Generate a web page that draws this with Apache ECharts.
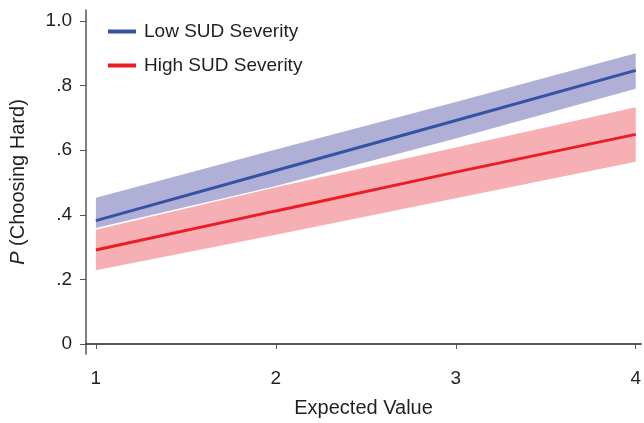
<!DOCTYPE html>
<html>
<head>
<meta charset="utf-8">
<script src="https://cdn.jsdelivr.net/npm/echarts@6/dist/echarts.min.js"></script>
<style>html,body{margin:0;padding:0;background:#fff}#c{width:644px;height:423px}</style>
</head>
<body>
<div id="c"></div>
<script>
var expectedValue = [1, 2, 3, 4];
var lowMean  = [0.382, 0.537, 0.692, 0.847];
var lowLower = [0.359, 0.489, 0.636, 0.790];
var lowUpper = [0.453, 0.602, 0.749, 0.900];
var highMean  = [0.291, 0.412, 0.532, 0.649];
var highLower = [0.228, 0.338, 0.451, 0.564];
var highUpper = [0.354, 0.485, 0.608, 0.733];
var yTicks = [0, 0.2, 0.4, 0.6, 0.8, 1.0];
var yTickLabels = ['0', '.2', '.4', '.6', '.8', '1.0'];
var xTicks = [1, 2, 3, 4];

var FONT = "'Liberation Sans', Arial, sans-serif";
function pts(ys) { return expectedValue.map(function (x, i) { return [x, ys[i]]; }); }
function bandData(lo, hi) { return expectedValue.map(function (x, i) { return [x, lo[i], hi[i]]; }); }

function bandSeries(lo, hi, color, z) {
  return {
    type: 'custom', silent: true, z: z,
    data: bandData(lo, hi),
    encode: { x: 0, y: [1, 2] },
    renderItem: function (params, api) {
      if (params.dataIndex !== 0) return null;
      var top = [], bot = [];
      for (var i = 0; i < expectedValue.length; i++) {
        top.push(api.coord([expectedValue[i], hi[i]]));
        bot.push(api.coord([expectedValue[i], lo[i]]));
      }
      return {
        type: 'polygon',
        shape: { points: top.concat(bot.reverse()) },
        style: { fill: color, stroke: null }
      };
    }
  };
}

var chart = echarts.init(document.getElementById('c'));
chart.setOption({
  animation: false,
  grid: { left: 86, right: 0, top: 10, bottom: 67, containLabel: false },
  legend: {
    orient: 'vertical', left: 103, top: 17, itemGap: 15,
    itemWidth: 28, itemHeight: 4, icon: 'rect',
    textStyle: { fontFamily: FONT, fontSize: 19, color: '#231f20', padding: [0, 0, 0, 3] },
    data: ['Low SUD Severity', 'High SUD Severity']
  },
  xAxis: {
    type: 'value', min: 0.945, max: 4.03,
    name: 'Expected Value', nameLocation: 'middle', nameGap: 44,
    nameTextStyle: { fontFamily: FONT, fontSize: 20, color: '#231f20' },
    axisLine: { show: true, lineStyle: { color: '#231f20', width: 1.5 } },
    axisTick: { show: true, length: 5, customValues: xTicks, lineStyle: { color: '#555' } },
    axisLabel: { customValues: xTicks, margin: 15, fontFamily: FONT, fontSize: 19, color: '#231f20' },
    splitLine: { show: false }
  },
  yAxis: {
    type: 'value', min: -0.031, max: 1.034,
    name: '{i|P} (Choosing Hard)', nameLocation: 'middle', nameGap: 58, nameRotate: 90,
    nameTextStyle: { fontFamily: FONT, fontSize: 20, color: '#231f20',
      rich: { i: { fontFamily: FONT, fontSize: 20, fontStyle: 'italic', color: '#231f20' } } },
    axisLine: { show: true, lineStyle: { color: '#555', width: 1.5 } },
    axisTick: { show: true, length: 6, customValues: yTicks, lineStyle: { color: '#555' } },
    axisLabel: {
      customValues: yTicks, margin: 14, fontFamily: FONT, fontSize: 19, color: '#231f20',
      formatter: function (v) {
        for (var i = 0; i < yTicks.length; i++) if (Math.abs(v - yTicks[i]) < 1e-6) return yTickLabels[i];
        return '';
      }
    },
    splitLine: { show: false }
  },
  series: [
    bandSeries(highLower, highUpper, '#f6b0b3', 1),
    bandSeries(lowLower, lowUpper, '#b0b0d7', 2),
    { type: 'line', name: 'Low SUD Severity', data: pts(lowMean), symbol: 'none',
      itemStyle: { color: '#3552a3' }, lineStyle: { color: '#3552a3', width: 3 }, z: 5 },
    { type: 'line', name: 'High SUD Severity', data: pts(highMean), symbol: 'none',
      itemStyle: { color: '#ed1c24' }, lineStyle: { color: '#ed1c24', width: 3 }, z: 5 }
  ]
});
</script>
</body>
</html>
